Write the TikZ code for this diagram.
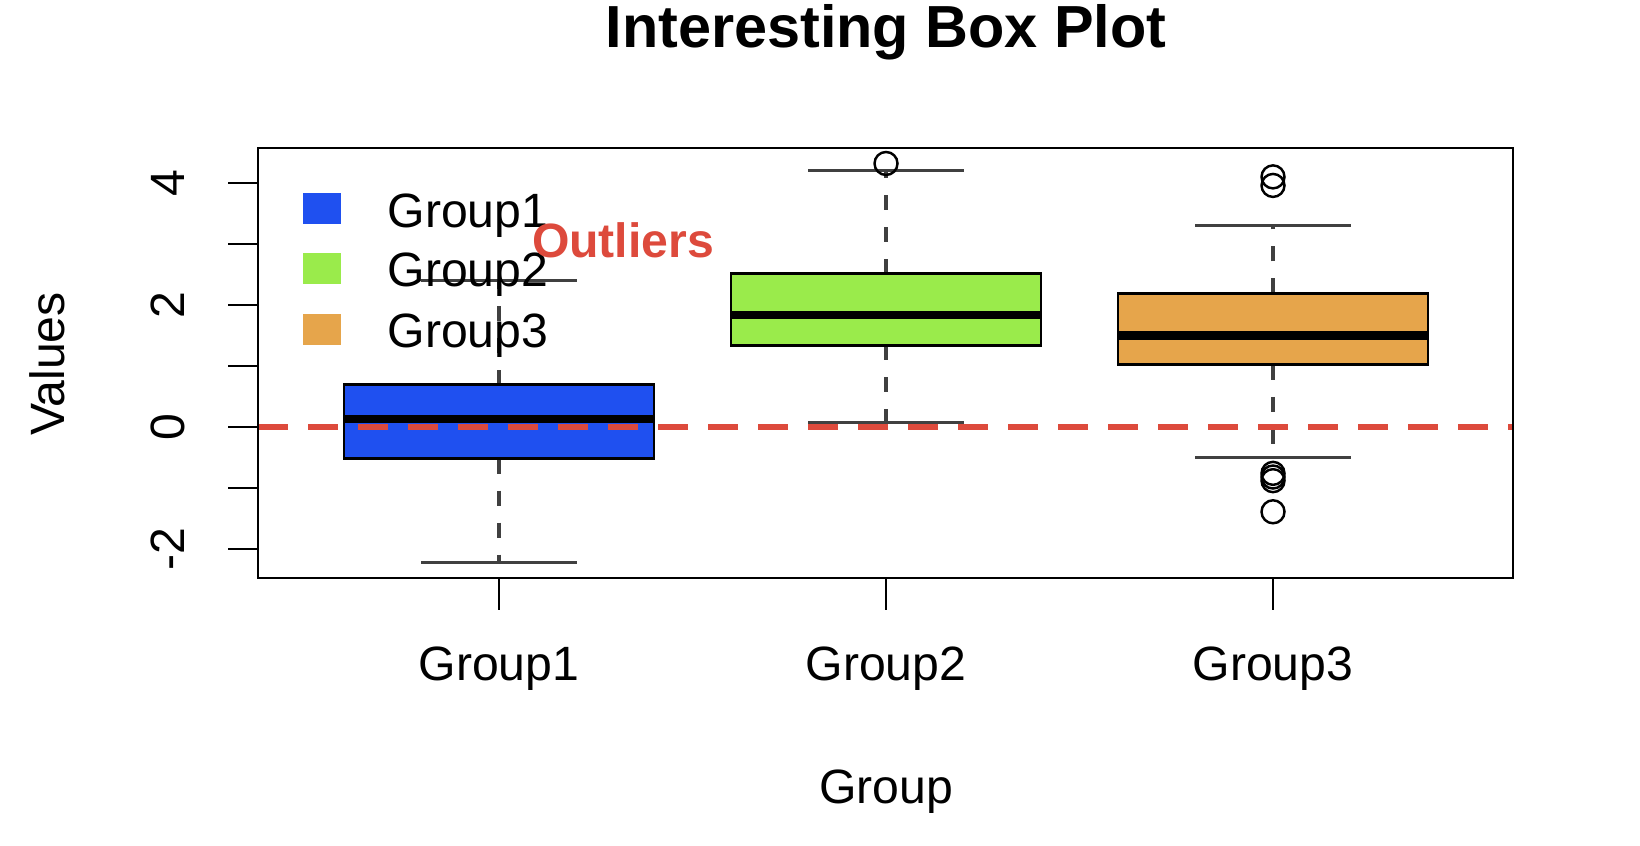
\documentclass[tikz,border=0pt]{standalone}
\usepackage{fontspec}
\setmainfont{Liberation Sans}
\usepackage{tikz}
\usetikzlibrary{positioning}
\definecolor{boxblue}{RGB}{31,80,240}
\definecolor{boxgreen}{RGB}{154,235,75}
\definecolor{boxorange}{RGB}{230,165,75}
\definecolor{refred}{RGB}{221,74,60}
\tikzset{
  lbl/.style={font=\fontsize{13.7}{16}\selectfont},
  whisk/.style={black!75, line width=0.9pt, dash pattern=on 0.15cm off 0.17cm},
  capline/.style={black!75, line width=0.9pt},
  boxbody/.style={draw=black, line width=0.8pt},
  medline/.style={line width=2.4pt},
  outpt/.style={circle, draw, line width=0.7pt, inner sep=0pt, minimum size=0.23cm},
  swatch/.style={minimum width=0.38cm, minimum height=0.31cm, inner sep=0pt}
}

\begin{document}
\begin{tikzpicture}
    \useasboundingbox (0,0) rectangle (16.4,8.46);
    \node[font=\bfseries\fontsize{16.9}{20}\selectfont] (title) at (8.86,8.14) {Interesting Box Plot};

    % data region, one unit per value
    \begin{scope}[yshift=4.19cm, y=0.61cm]
    \coordinate (g1lo) at (4.99,-2.22);
    \coordinate (g1hi) at (4.99,2.40);
    \coordinate (g1q1) at (4.99,-0.52);
    \coordinate (g1q3) at (4.99,0.69);
    \coordinate (g2lo) at (8.86,0.08);
    \coordinate (g2hi) at (8.86,4.20);
    \coordinate (g2q1) at (8.86,1.34);
    \coordinate (g2q3) at (8.86,2.51);
    \coordinate (g3lo) at (12.73,-0.50);
    \coordinate (g3hi) at (12.73,3.30);
    \coordinate (g3q1) at (12.73,1.02);
    \coordinate (g3q3) at (12.73,2.19);

    % whiskers
    \draw[whisk] (g1q1) -- (g1lo);
    \draw[whisk] (g1q3) -- (g1hi);
    \draw[whisk] (g2q1) -- (g2lo);
    \draw[whisk] (g2q3) -- (g2hi);
    \draw[whisk] (g3q1) -- (g3lo);
    \draw[whisk] (g3q3) -- (g3hi);
    \draw[capline] ([xshift=-0.78cm]g1lo) -- ([xshift=0.78cm]g1lo);
    \draw[capline] ([xshift=-0.78cm]g1hi) -- ([xshift=0.78cm]g1hi);
    \draw[capline] ([xshift=-0.78cm]g2lo) -- ([xshift=0.78cm]g2lo);
    \draw[capline] ([xshift=-0.78cm]g2hi) -- ([xshift=0.78cm]g2hi);
    \draw[capline] ([xshift=-0.78cm]g3lo) -- ([xshift=0.78cm]g3lo);
    \draw[capline] ([xshift=-0.78cm]g3hi) -- ([xshift=0.78cm]g3hi);

    % boxes
    \draw[boxbody, fill=boxblue] ([xshift=-1.55cm]g1q1) rectangle ([xshift=1.55cm]g1q3);
    \draw[boxbody, fill=boxgreen] ([xshift=-1.55cm]g2q1) rectangle ([xshift=1.55cm]g2q3);
    \draw[boxbody, fill=boxorange] ([xshift=-1.55cm]g3q1) rectangle ([xshift=1.55cm]g3q3);
    \draw[medline] (3.44,0.13) -- (6.54,0.13);
    \draw[medline] (7.31,1.84) -- (10.41,1.84);
    \draw[medline] (11.18,1.50) -- (14.28,1.50);

    % outlying points
    \node[outpt] (o2a) at (8.86,4.32) {};
    \node[outpt] (o3a) at (12.73,4.10) {};
    \node[outpt] (o3b) at (12.73,3.96) {};
    \node[outpt] (o3c) at (12.73,-0.76) {};
    \node[outpt] (o3d) at (12.73,-0.82) {};
    \node[outpt] (o3e) at (12.73,-0.88) {};
    \node[outpt] (o3f) at (12.73,-1.39) {};

    % y axis
    \coordinate (ybot) at (2.58,-2);
    \coordinate (ytop) at (2.58,4);
    \draw[line width=0.8pt] (ybot) -- (ytop);
    \draw[line width=0.8pt] (2.28,-2) -- (2.58,-2);
    \draw[line width=0.8pt] (2.28,-1) -- (2.58,-1);
    \draw[line width=0.8pt] (2.28,0) -- (2.58,0);
    \draw[line width=0.8pt] (2.28,1) -- (2.58,1);
    \draw[line width=0.8pt] (2.28,2) -- (2.58,2);
    \draw[line width=0.8pt] (2.28,3) -- (2.58,3);
    \draw[line width=0.8pt] (2.28,4) -- (2.58,4);
    \node[lbl, rotate=90] (ym2) at (1.68,-2) {-2};
    \node[lbl, rotate=90] (y0) at (1.68,0) {0};
    \node[lbl, rotate=90] (y2) at (1.68,2) {2};
    \node[lbl, rotate=90] (y4) at (1.68,4) {4};

    % reference line
    \coordinate (refl) at (2.58,0);
    \coordinate (refr) at (15.13,0);
    \draw[refred, line width=1.9pt, dash pattern=on 0.3cm off 0.2cm] (refl) -- (refr);
    \end{scope}

    % frame and x axis
    \draw[line width=0.8pt] (2.58,2.68) rectangle (15.13,6.98);
    \coordinate (xa1) at (4.99,2.68);
    \coordinate (xa2) at (8.86,2.68);
    \coordinate (xa3) at (12.73,2.68);
    \draw[line width=0.8pt] (xa1) -- (xa3);
    \draw[line width=0.8pt] (xa1) -- ++(0,-0.32);
    \draw[line width=0.8pt] (xa2) -- ++(0,-0.32);
    \draw[line width=0.8pt] (xa3) -- ++(0,-0.32);
    \node[lbl] (xl1) at (4.99,1.77) {Group1};
    \node[lbl] (xl2) at (8.86,1.77) {Group2};
    \node[lbl] (xl3) at (12.73,1.77) {Group3};
    \node[lbl] (xname) at (8.86,0.54) {Group};
    \node[lbl, rotate=90] (yname) at (0.47,4.82) {Values};

    % legend
    \node[swatch, fill=boxblue] (sw1) at (3.22,6.37) {};
    \node[swatch, fill=boxgreen] (sw2) at (3.22,5.775) {};
    \node[swatch, fill=boxorange] (sw3) at (3.22,5.165) {};
    \node[lbl, inner sep=0pt, anchor=base west] (leg1) at (3.87,6.18) {Group1};
    \node[lbl, inner sep=0pt, anchor=base west] (leg2) at (3.87,5.59) {Group2};
    \node[lbl, inner sep=0pt, anchor=base west] (leg3) at (3.87,4.98) {Group3};

    \node[font=\bfseries\fontsize{13.7}{16}\selectfont, text=refred, anchor=base] (outl) at (6.23,5.88) {Outliers};
\end{tikzpicture}
\end{document}
